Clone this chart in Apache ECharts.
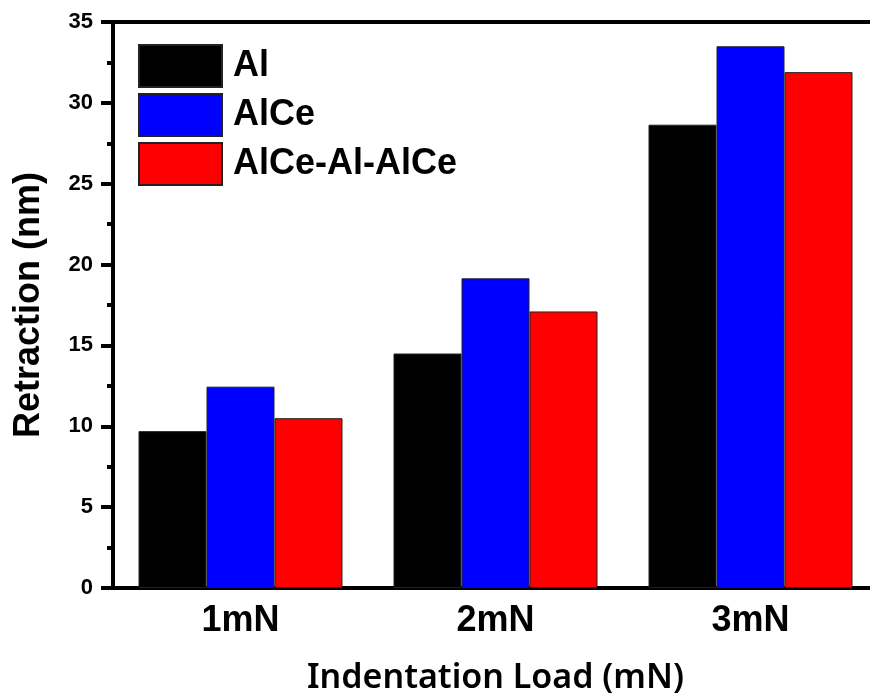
<!DOCTYPE html>
<html><head><meta charset="utf-8">
<script src="https://cdn.jsdelivr.net/npm/echarts@6/dist/echarts.min.js"></script>
<style>html,body{margin:0;padding:0;background:#fff}#c{width:870px;height:698px}</style>
</head><body><div id="c"></div>
<script>
const categories = ['1mN', '2mN', '3mN'];
const seriesNames = ['Al', 'AlCe', 'AlCe-Al-AlCe'];
const alValues = [9.7, 14.5, 28.65];
const alCeValues = [12.45, 19.15, 33.5];
const sandwichValues = [10.5, 17.1, 31.9];
const yTicks = [0, 5, 10, 15, 20, 25, 30, 35];
const colors = ['#000000', '#0000ff', '#ff0000'];

const chart = echarts.init(document.getElementById('c'), null, {renderer: 'canvas'});
const values = [alValues, alCeValues, sandwichValues];
const tickFont = 'Liberation Sans, Arial, sans-serif';
chart.setOption({
  animation: false,
  backgroundColor: '#fff',
  grid: {left: 113, top: 22, width: 765, height: 566, containLabel: false, outerBoundsMode: 'none'},
  legend: {
    orient: 'vertical', left: 138, top: 44, padding: 0,
    itemWidth: 83, itemHeight: 42, itemGap: 5,
    icon: 'rect',
    textStyle: {fontFamily: tickFont, fontWeight: 'bold', fontSize: 36, color: '#000', padding: [0, 0, 0, 6]},
    data: seriesNames
  },
  xAxis: [{
    type: 'category', data: categories, position: 'bottom',
    axisLine: {lineStyle: {color: '#000', width: 4}},
    axisTick: {alignWithLabel: true, length: 11, lineStyle: {color: '#000', width: 4}},
    axisLabel: {fontFamily: tickFont, fontWeight: 'bold', fontSize: 36, color: '#000', margin: 15},
    name: 'Indentation Load (mN)', nameLocation: 'middle', nameGap: 73,
    nameTextStyle: {fontFamily: 'Noto Sans, sans-serif', fontWeight: 600, fontSize: 34, color: '#000'}
  }, {
    type: 'category', data: categories, position: 'top',
    axisLine: {lineStyle: {color: '#000', width: 4}},
    axisTick: {show: false}, axisLabel: {show: false}
  }],
  yAxis: {
    type: 'value', min: yTicks[0], max: yTicks[yTicks.length - 1], interval: 5,
    axisLine: {show: true, lineStyle: {color: '#000', width: 4}},
    axisTick: {show: true, length: 12, lineStyle: {color: '#000', width: 4}},
    minorTick: {show: true, splitNumber: 2, length: 6, lineStyle: {color: '#000', width: 4}},
    splitLine: {show: false},
    axisLabel: {fontFamily: tickFont, fontWeight: 'bold', fontSize: 22, color: '#000', margin: 20},
    name: 'Retraction (nm)', nameLocation: 'middle', nameGap: 66,
    nameTextStyle: {fontFamily: tickFont, fontWeight: 'bold', fontSize: 36, color: '#000'}
  },
  series: seriesNames.map((n, i) => ({
    name: n, type: 'bar', data: values[i],
    barGap: '0%', barCategoryGap: '20%',
    itemStyle: {color: colors[i], borderColor: '#222', borderWidth: 1}
  }))
});
</script></body></html>
